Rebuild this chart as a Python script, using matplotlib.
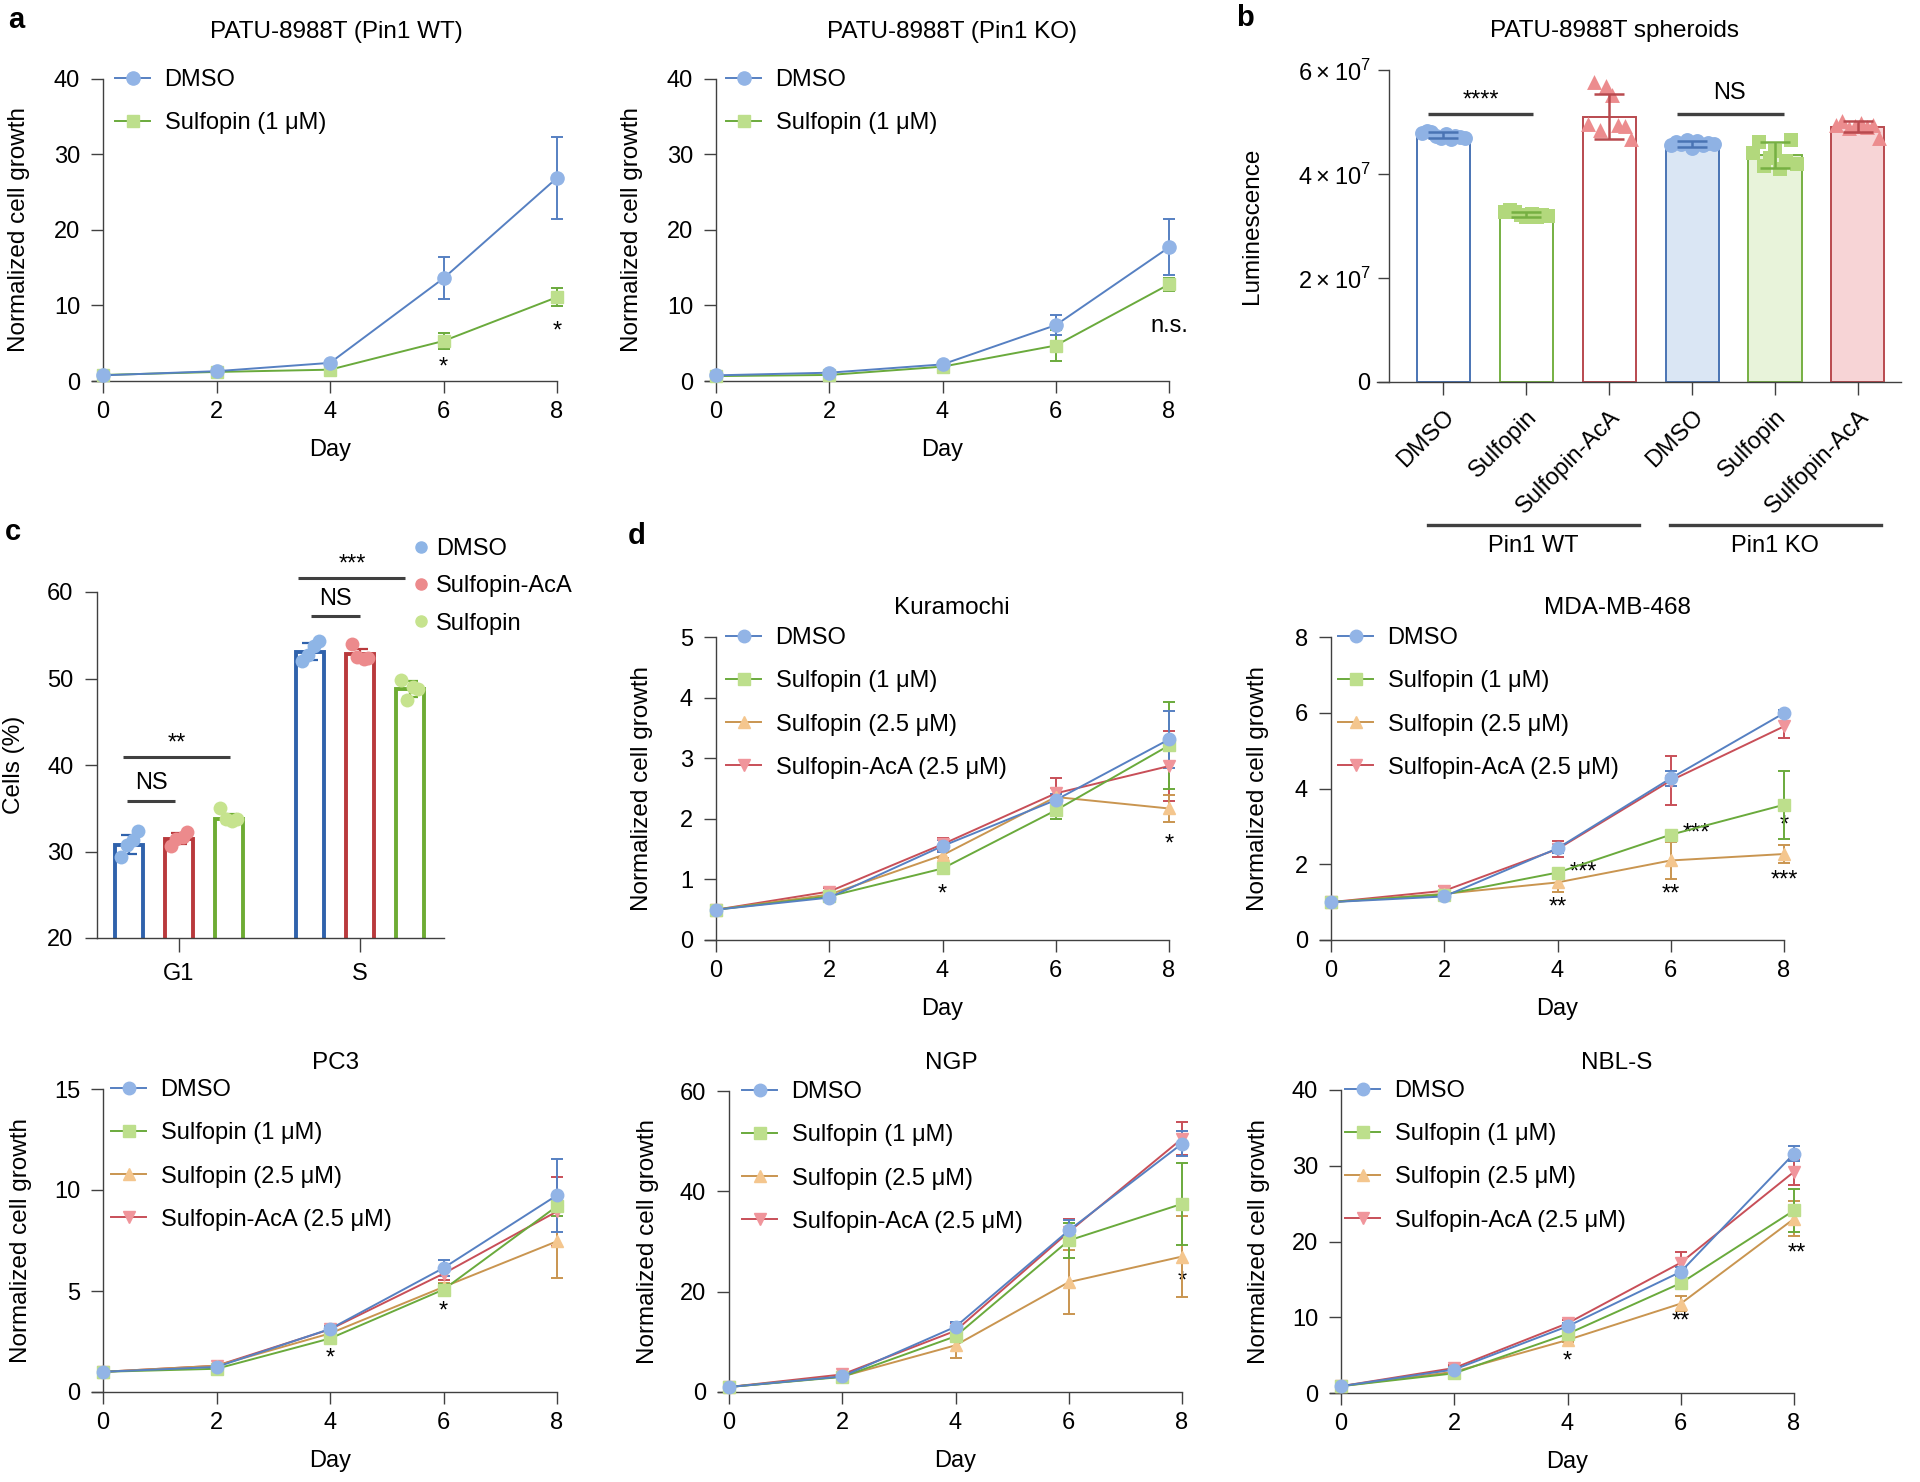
import numpy as np
import matplotlib.pyplot as plt
from matplotlib.lines import Line2D

plt.rcParams['font.family'] = ['Liberation Sans', 'DejaVu Sans']
plt.rcParams['mathtext.fontset'] = 'custom'
plt.rcParams['mathtext.rm'] = 'Liberation Sans'
plt.rcParams['font.size'] = 17
plt.rcParams['xtick.labelsize'] = 17
plt.rcParams['ytick.labelsize'] = 17
plt.rcParams['axes.linewidth'] = 1.0
plt.rcParams['axes.edgecolor'] = '#404040'
plt.rcParams['xtick.color'] = '#404040'
plt.rcParams['ytick.color'] = '#404040'
plt.rcParams['xtick.labelcolor'] = 'black'
plt.rcParams['ytick.labelcolor'] = 'black'

# ---------------- data ----------------
days = [0, 2, 4, 6, 8]

# panel a : PATU-8988T growth
wt_dmso = [0.75, 1.3, 2.4, 13.6, 26.9]
wt_dmso_err = [0.1, 0.15, 0.3, 2.8, 5.4]
wt_sulf = [0.8, 1.2, 1.5, 5.3, 11.1]
wt_sulf_err = [0.1, 0.1, 0.2, 1.1, 1.2]
wt_marks = [(6, 1.8, '*'), (8, 6.6, '*')]

ko_dmso = [0.75, 1.1, 2.2, 7.4, 17.7]
ko_dmso_err = [0.1, 0.1, 0.2, 1.3, 3.7]
ko_sulf = [0.65, 0.8, 1.9, 4.7, 12.8]
ko_sulf_err = [0.05, 0.1, 0.2, 2.1, 0.9]
ko_marks = [(8, 7.3, 'n.s.')]

# panel b : spheroids luminescence (x 1e7)
b_labels = ['DMSO', 'Sulfopin', 'Sulfopin-AcA', 'DMSO', 'Sulfopin', 'Sulfopin-AcA']
b_means = [4.75, 3.22, 5.10, 4.58, 4.37, 4.91]
b_sd = [0.05, 0.05, 0.43, 0.06, 0.25, 0.10]
b_pts = [
    [4.78, 4.82, 4.80, 4.74, 4.70, 4.76, 4.68, 4.73, 4.72, 4.70],
    [3.26, 3.30, 3.27, 3.22, 3.18, 3.24, 3.17, 3.21, 3.20],
    [4.96, 5.76, 4.85, 5.69, 5.52, 4.94, 4.92, 4.68],
    [4.56, 4.62, 4.58, 4.66, 4.50, 4.63, 4.55, 4.60, 4.57],
    [4.40, 4.62, 4.15, 4.30, 4.45, 4.10, 4.25, 4.65, 4.20],
    [4.95, 5.02, 4.88, 4.92, 4.98, 4.90, 4.95, 4.70],
]

# panel c : cell cycle
c_phases = ['G1', 'S']
c_dmso = [30.8, 53.1]
c_dmso_sd = [1.1, 1.0]
c_dmso_pts = [[29.4, 30.8, 31.3, 32.4], [52.0, 52.7, 53.7, 54.3]]
c_aca = [31.5, 52.8]
c_aca_sd = [0.6, 0.6]
c_aca_pts = [[30.6, 31.5, 31.7, 32.3], [54.0, 52.5, 52.3, 52.4]]
c_sulf = [33.8, 48.8]
c_sulf_sd = [0.5, 0.9]
c_sulf_pts = [[35.0, 33.7, 33.5, 33.8], [49.8, 47.5, 49.0, 48.8]]

# panel d : other cell lines
kur_dmso = [0.5, 0.70, 1.55, 2.31, 3.31]
kur_dmso_err = [0.03, 0.03, 0.10, 0.10, 0.47]
kur_s1 = [0.5, 0.72, 1.18, 2.14, 3.21]
kur_s1_err = [0.03, 0.03, 0.05, 0.15, 0.72]
kur_s25 = [0.5, 0.75, 1.40, 2.36, 2.17]
kur_s25_err = [0.03, 0.03, 0.05, 0.15, 0.22]
kur_aca = [0.5, 0.80, 1.58, 2.42, 2.87]
kur_aca_err = [0.03, 0.05, 0.10, 0.26, 0.58]
kur_marks = [(4, 0.75, '*'), (8, 1.58, '*')]

mda_dmso = [1.0, 1.15, 2.42, 4.27, 5.99]
mda_dmso_err = [0.03, 0.05, 0.12, 0.20, 0.08]
mda_s1 = [1.0, 1.20, 1.78, 2.78, 3.57]
mda_s1_err = [0.03, 0.05, 0.08, 0.08, 0.90]
mda_s25 = [1.0, 1.22, 1.52, 2.10, 2.27]
mda_s25_err = [0.03, 0.05, 0.25, 0.48, 0.23]
mda_aca = [1.0, 1.30, 2.40, 4.21, 5.64]
mda_aca_err = [0.03, 0.12, 0.22, 0.65, 0.30]
mda_marks = [(4, 0.86, '**'), (4.45, 1.79, '***'), (6, 1.21, '**'),
             (6.45, 2.80, '***'), (8, 3.02, '*'), (8, 1.57, '***')]

pc3_dmso = [1.0, 1.24, 3.12, 6.14, 9.74]
pc3_dmso_err = [0.05, 0.10, 0.15, 0.40, 1.80]
pc3_s1 = [1.0, 1.15, 2.65, 5.07, 9.20]
pc3_s1_err = [0.05, 0.05, 0.10, 0.30, 0.50]
pc3_s25 = [1.0, 1.30, 2.90, 5.20, 7.46]
pc3_s25_err = [0.05, 0.05, 0.10, 0.20, 1.80]
pc3_aca = [1.0, 1.30, 3.10, 5.86, 8.94]
pc3_aca_err = [0.05, 0.10, 0.15, 0.30, 1.70]
pc3_marks = [(4, 1.65, '*'), (6, 4.0, '*')]

ngp_dmso = [1.0, 3.1, 13.0, 32.2, 49.5]
ngp_dmso_err = [0.2, 0.4, 1.0, 2.0, 2.5]
ngp_s1 = [1.0, 3.0, 11.1, 30.2, 37.5]
ngp_s1_err = [0.2, 0.3, 1.0, 3.5, 8.2]
ngp_s25 = [1.0, 3.1, 9.3, 21.9, 27.0]
ngp_s25_err = [0.2, 0.3, 2.5, 6.4, 8.0]
ngp_aca = [1.0, 3.5, 12.2, 31.9, 50.5]
ngp_aca_err = [0.2, 0.4, 1.5, 2.5, 3.3]
ngp_marks = [(8, 22.0, '*')]

nbl_dmso = [0.9, 3.1, 8.8, 16.0, 31.6]
nbl_dmso_err = [0.1, 0.3, 0.5, 0.6, 1.0]
nbl_s1 = [0.9, 2.6, 7.8, 14.5, 24.1]
nbl_s1_err = [0.1, 0.2, 0.4, 0.6, 2.8]
nbl_s25 = [0.9, 2.8, 7.0, 11.8, 23.0]
nbl_s25_err = [0.1, 0.2, 0.3, 1.0, 2.3]
nbl_aca = [0.9, 3.3, 9.2, 17.2, 29.2]
nbl_aca_err = [0.1, 0.4, 0.5, 1.4, 1.7]
nbl_marks = [(4, 4.1, '*'), (6, 9.4, '**'), (8.05, 18.4, '**')]

# ---------------- style ----------------
BLUE = ('#5680c2', '#92b4e6')
GREEN = ('#6aaa3c', '#bddf8c')
ORANGE = ('#c99550', '#f4c68e')
RED = ('#c84f58', '#f0959b')
LBL = ['DMSO', 'Sulfopin (1 \u03bcM)', 'Sulfopin (2.5 \u03bcM)', 'Sulfopin-AcA (2.5 \u03bcM)']

W, H = 1920, 1482
fig = plt.figure(figsize=(W / 100, H / 100), dpi=100)


def add_ax(left, top, right, bottom):
    return fig.add_axes([left / W, 1 - bottom / H, (right - left) / W, (bottom - top) / H])


def growth_panel(x0, x8, top, bottom, ymax, ystep, series, marks, leg_px, ylab_right):
    unit = (x8 - x0) / 8
    left = x0 - 0.2 * unit
    ax = add_ax(left, top, x8, bottom)
    w_px, h_px = x8 - left, bottom - top
    n = len(series)
    for i, (label, y, err, col, marker, ms) in enumerate(series):
        eb = ax.errorbar(days, y, yerr=err, fmt='none', ecolor=col[0], elinewidth=1.4,
                         capsize=4.5, capthick=1.4, zorder=2 + (n - i))
        for art in eb.get_children():
            art.set_clip_on(False)
        ax.plot(days, y, color=col[0], lw=1.4, marker=marker, ms=ms, mfc=col[1],
                mec=col[1], label=label, zorder=10 + (n - i), clip_on=False)
    for x, y, s in marks:
        ax.text(x, y, s, ha='center', va='center', fontsize=17)
    ax.set_xlim(-0.2, 8)
    ax.set_ylim(0, ymax)
    ax.set_xticks(days)
    ax.set_yticks(np.arange(0, ymax + 0.01, ystep))
    ax.spines[['top', 'right']].set_visible(False)
    ax.spines['left'].set_position(('data', 0))
    ax.tick_params(axis='x', length=8.5, width=1.0, pad=6)
    ax.tick_params(axis='y', length=8.5, width=1.0, pad=8)
    ax.set_xlabel('Day', fontsize=17)
    ax.xaxis.set_label_coords((x0 + 4 * unit - left) / w_px, -58 / h_px)
    ax.set_ylabel('Normalized cell growth', fontsize=17.5)
    ax.yaxis.set_label_coords((ylab_right - left) / w_px, 0.5)
    ax.legend(loc='upper left', bbox_to_anchor=((leg_px - left) / w_px, 1 + 10 / h_px),
              frameon=False, handlelength=1.5, handletextpad=0.6, labelspacing=0.9,
              borderpad=0, borderaxespad=0, fontsize=17)
    return ax


def four(d, s1, s25, aca):
    return [(LBL[0], d[0], d[1], BLUE, 'o', 9),
            (LBL[1], s1[0], s1[1], GREEN, 's', 8.5),
            (LBL[2], s25[0], s25[1], ORANGE, '^', 9),
            (LBL[3], aca[0], aca[1], RED, 'v', 9)]


def title(x, y, s):
    fig.text(x / W, 1 - y / H, s, ha='center', va='center', fontsize=17.5)


# ---------------- panel a ----------------
two_wt = [(LBL[0], wt_dmso, wt_dmso_err, BLUE, 'o', 9.5),
          (LBL[1], wt_sulf, wt_sulf_err, GREEN, 's', 9)]
growth_panel(103, 557, 79, 381, 40, 10, two_wt, wt_marks, 115, 30)
title(336, 32, 'PATU-8988T (Pin1 WT)')

two_ko = [(LBL[0], ko_dmso, ko_dmso_err, BLUE, 'o', 9.5),
          (LBL[1], ko_sulf, ko_sulf_err, GREEN, 's', 9)]
growth_panel(716, 1169, 79, 381, 40, 10, two_ko, ko_marks, 726, 643)
title(952, 32, 'PATU-8988T (Pin1 KO)')

# ---------------- panel d ----------------
growth_panel(716, 1169, 637, 940, 5, 1,
             four((kur_dmso, kur_dmso_err), (kur_s1, kur_s1_err),
                  (kur_s25, kur_s25_err), (kur_aca, kur_aca_err)), kur_marks, 726, 653)
title(952, 608, 'Kuramochi')

growth_panel(1331, 1784, 637, 940, 8, 2,
             four((mda_dmso, mda_dmso_err), (mda_s1, mda_s1_err),
                  (mda_s25, mda_s25_err), (mda_aca, mda_aca_err)), mda_marks, 1338, 1269)
title(1617, 608, 'MDA-MB-468')

growth_panel(103, 557, 1089, 1392, 15, 5,
             four((pc3_dmso, pc3_dmso_err), (pc3_s1, pc3_s1_err),
                  (pc3_s25, pc3_s25_err), (pc3_aca, pc3_aca_err)), pc3_marks, 111, 32)
title(336, 1063, 'PC3')

growth_panel(729, 1182, 1091, 1392, 60, 20,
             four((ngp_dmso, ngp_dmso_err), (ngp_s1, ngp_s1_err),
                  (ngp_s25, ngp_s25_err), (ngp_aca, ngp_aca_err)), ngp_marks, 742, 659)
title(951, 1063, 'NGP')

growth_panel(1341, 1794, 1090, 1393, 40, 10,
             four((nbl_dmso, nbl_dmso_err), (nbl_s1, nbl_s1_err),
                  (nbl_s25, nbl_s25_err), (nbl_aca, nbl_aca_err)), nbl_marks, 1345, 1270)
title(1617, 1063, 'NBL-S')

# ---------------- panel b ----------------
b_left, b_right, b_top, b_bot = 1377, 1901, 70, 382
axb = add_ax(b_left, b_top, b_right, b_bot)
b_edge = ['#4a74b4', '#76b042', '#b94a4f', '#4a74b4', '#76b042', '#b94a4f']
b_face = ['white', 'white', 'white', '#dae6f4', '#e8f3da', '#f7d4d6']
b_ptc = ['#8fb2e4', '#b2d87c', '#ec8c8e', '#8fb2e4', '#b2d87c', '#ec8c8e']
b_mk = ['o', 's', '^', 'o', 's', '^']
xb = np.arange(len(b_labels))
axb.bar(xb, np.array(b_means) * 1e7, width=0.64, color=b_face, edgecolor=b_edge,
        linewidth=1.4, zorder=2)
for i, pts in enumerate(b_pts):
    xs = i + np.linspace(-0.26, 0.26, len(pts))
    axb.scatter(xs, np.array(pts) * 1e7, marker=b_mk[i], s=115, color=b_ptc[i],
                linewidths=0, zorder=3, clip_on=False)
for i in range(len(b_labels)):
    axb.errorbar(xb[i], b_means[i] * 1e7, yerr=b_sd[i] * 1e7, fmt='none', ecolor=b_edge[i],
                 elinewidth=1.8, capsize=11, capthick=1.8, zorder=4)
axb.set_xlim(-0.8, 5.52)
axb.set_ylim(0, 6e7)
axb.spines['left'].set_position(('data', -0.66))
axb.set_yticks([0, 2e7, 4e7, 6e7])
axb.set_yticklabels(['0', r'$2\times10^{7}$', r'$4\times10^{7}$', r'$6\times10^{7}$'])
axb.set_xticks(xb)
axb.set_xticklabels(b_labels, rotation=45, ha='right', rotation_mode='anchor')
axb.spines[['top', 'right']].set_visible(False)
axb.tick_params(axis='x', length=9, width=1.0, pad=8)
axb.tick_params(axis='y', length=8, width=1.0, pad=5)
axb.set_ylabel('Luminescence', fontsize=17.5)
axb.yaxis.set_label_coords((1263 - b_left) / (b_right - b_left), 0.5)
axb.plot([-0.19, 1.08], [5.15e7, 5.15e7], color='#404040', lw=2.4, solid_capstyle='butt')
axb.text(0.45, 5.2e7, '****', ha='center', va='bottom', fontsize=17)
axb.plot([2.82, 4.11], [5.15e7, 5.15e7], color='#404040', lw=2.4, solid_capstyle='butt')
axb.text(3.45, 5.55e7, 'NS', ha='center', va='center', fontsize=17)
trb = axb.get_xaxis_transform()
axb.plot([-0.19, 2.36], [-0.458, -0.458], transform=trb, color='#404040', lw=2.4, clip_on=False)
axb.plot([2.73, 5.28], [-0.458, -0.458], transform=trb, color='#404040', lw=2.4, clip_on=False)
axb.text(1.08, -0.525, 'Pin1 WT', transform=trb, ha='center', va='center', fontsize=17)
axb.text(4.0, -0.525, 'Pin1 KO', transform=trb, ha='center', va='center', fontsize=17)
title(1615, 31, 'PATU-8988T spheroids')

# ---------------- panel c ----------------
c_left, c_right, c_top, c_bot = 97, 444, 592, 938
axc = add_ax(c_left, c_top, c_right, c_bot)
c_groups = [(c_dmso, c_dmso_sd, c_dmso_pts, '#2f62ac', '#8eb5e6', 'DMSO'),
            (c_aca, c_aca_sd, c_aca_pts, '#b9393c', '#ec8a8c', 'Sulfopin-AcA'),
            (c_sulf, c_sulf_sd, c_sulf_pts, '#6eac33', '#c6e38e', 'Sulfopin')]
offs = [-0.274, 0.0, 0.274]
jit = [-0.045, -0.015, 0.02, 0.045]
handles = []
for j, (mean, sd, pts, ec, pc, lab) in enumerate(c_groups):
    xs = np.arange(len(c_phases)) + offs[j]
    axc.bar(xs, mean, width=0.155, color='white', edgecolor=ec, linewidth=2.8, zorder=2)
    axc.errorbar(xs, mean, yerr=sd, fmt='none', ecolor=ec, elinewidth=1.6, capsize=6,
                 capthick=1.6, zorder=3)
    for k, p in enumerate(pts):
        axc.scatter(xs[k] + np.array(jit), p, s=100, color=pc, linewidths=0, zorder=4)
    handles.append(Line2D([], [], marker='o', ls='none', color=pc, ms=8, label=lab))
axc.set_xlim(-0.453, 1.464)
axc.set_ylim(20, 60)
axc.set_xticks([0, 1])
axc.set_xticklabels(c_phases)
axc.set_yticks([20, 30, 40, 50, 60])
axc.spines[['top', 'right']].set_visible(False)
axc.tick_params(axis='x', length=10, width=1.0, pad=8)
axc.tick_params(axis='y', length=9, width=1.0, pad=8)
axc.set_ylabel('Cells (%)', fontsize=17.5)
axc.yaxis.set_label_coords((25 - c_left) / (c_right - c_left), 0.5)
c_sig = [(-0.31, 0.28, 40.9, '**', 42.5), (-0.29, -0.02, 35.8, 'NS', 37.9),
         (0.66, 1.25, 61.6, '***', 63.2), (0.73, 1.0, 57.2, 'NS', 59.2)]
for x1, x2, yl, s, yt in c_sig:
    axc.plot([x1, x2], [yl, yl], color='#404040', lw=2.2, clip_on=False, solid_capstyle='butt')
    axc.text((x1 + x2) / 2, yt, s, ha='center', va='center', fontsize=17, clip_on=False)
axc.legend(handles=handles, loc='upper left',
           bbox_to_anchor=((415 - c_left) / (c_right - c_left), 1.155), frameon=False,
           handlelength=0.5, handletextpad=0.4, labelspacing=0.64, borderpad=0,
           borderaxespad=0, fontsize=17)

# ---------------- panel letters ----------------
for x, y, s in [(16, 20, 'a'), (1245, 18, 'b'), (13, 532, 'c'), (637, 536, 'd')]:
    fig.text(x / W, 1 - y / H, s, ha='center', va='center', fontsize=21, fontweight='bold')

fig.savefig('out.png', dpi=100)
